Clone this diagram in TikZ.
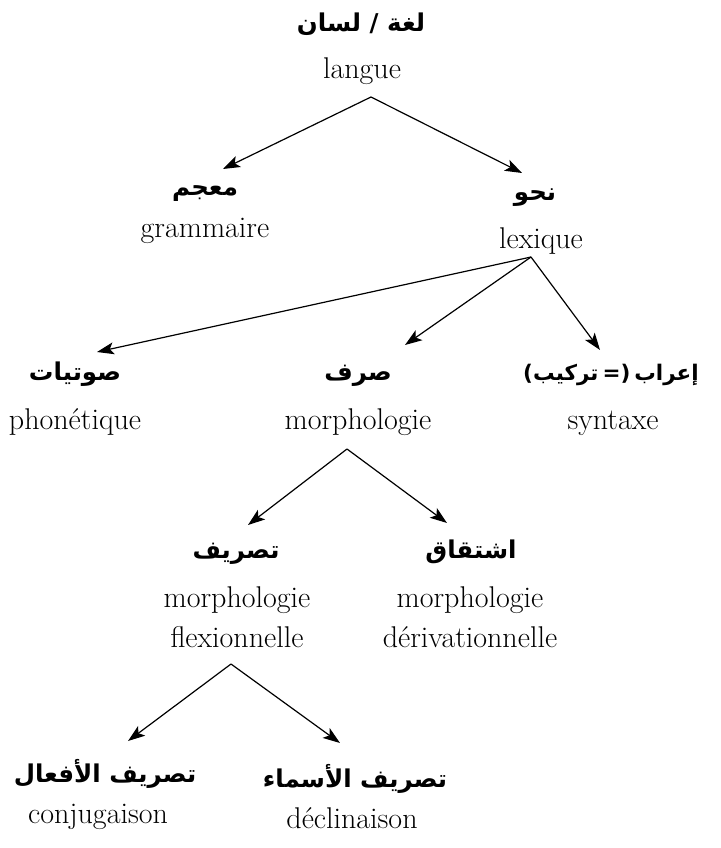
\documentclass[tikz,border=0pt]{standalone}
\usepackage{fontspec}
\newfontfamily\arabicfont[Script=Arabic]{DejaVu Sans}
\TeXXeTstate=1
\usetikzlibrary{arrows.meta}

\begin{document}
\begin{tikzpicture}[x=1pt,y=-1pt,
  ar/.style={font=\arabicfont\bfseries\fontsize{24.5}{28}\selectfont, anchor=base, inner sep=0pt},
  fr/.style={font=\fontsize{30}{34}\selectfont, anchor=base, inner sep=0pt},
  link/.style={-{Stealth[length=17pt,width=12pt,inset=4pt]}, line width=1.2pt}]
\useasboundingbox (0,0) rectangle (720,848);

% level 0
\node[ar] (langAr) at (361,32) {\beginR لغة / لسان\endR};
\node[fr] (langFr) at (362,79) {langue};

% level 1
\node[ar] (lexAr) at (205,195) {\beginR معجم\endR};
\node[fr] (lexFr) at (205,237) {grammaire};
\node[ar] (gramAr) at (535,200) {\beginR نحو\endR};
\node[fr] (gramFr) at (541,248) {lexique};

% level 2
\node[ar] (phonAr) at (75,380) {\beginR صوتيات\endR};
\node[fr] (phonFr) at (75,429) {phonétique};
\node[ar] (morphAr) at (358,380) {\beginR صرف\endR};
\node[fr] (morphFr) at (358,429) {morphologie};
% the three pieces come out right to left in this box
\node[ar, font=\arabicfont\bfseries\fontsize{21.5}{26}\selectfont] (syntAr) at (611,380)
  {\mbox{تركيب)}\hspace{4pt}\mbox{(=}\hspace{4pt}\mbox{إعراب}};
\node[fr] (syntFr) at (613,429) {syntaxe};

% level 3
\node[ar] (flexAr) at (236,558) {\beginR تصريف\endR};
\node[fr] (flexFrA) at (237,607) {morphologie};
\node[fr] (flexFrB) at (237,647) {flexionnelle};
\node[ar] (derAr) at (471,558) {\beginR اشتقاق\endR};
\node[fr] (derFrA) at (470,607) {morphologie};
\node[fr] (derFrB) at (470,647) {dérivationnelle};

% level 4
\node[ar] (conjAr) at (105,782) {\beginR تصريف الأفعال\endR};
\node[fr] (conjFr) at (98,823) {conjugaison};
\node[ar] (declAr) at (355,787) {\beginR تصريف الأسماء\endR};
\node[fr] (declFr) at (352,828) {déclinaison};

% forks below each parent and arrow ends above each child
\coordinate (fork0) at (371,97);
\coordinate (to-lex) at (223,169);
\coordinate (to-gram) at (522,173);
\coordinate (fork1) at (531,257);
\coordinate (to-phon) at (97,352);
\coordinate (to-morph) at (405,345);
\coordinate (to-synt) at (600,350);
\coordinate (fork2) at (347,449);
\coordinate (to-flex) at (248,525);
\coordinate (to-der) at (447,523);
\coordinate (fork3) at (231,664);
\coordinate (to-conj) at (128,741);
\coordinate (to-decl) at (340,743);

\draw[link] (fork0) -- (to-lex);
\draw[link] (fork0) -- (to-gram);
\draw[link] (fork1) -- (to-phon);
\draw[link] (fork1) -- (to-morph);
\draw[link] (fork1) -- (to-synt);
\draw[link] (fork2) -- (to-flex);
\draw[link] (fork2) -- (to-der);
\draw[link] (fork3) -- (to-conj);
\draw[link] (fork3) -- (to-decl);
\end{tikzpicture}
\end{document}
